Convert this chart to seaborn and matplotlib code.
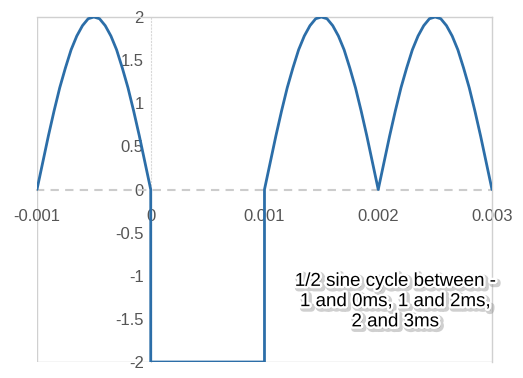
import pandas as pd
import matplotlib.pyplot as plt
import matplotlib.patheffects as pe
import seaborn as sns

# --- Data (time in seconds, value in volts) ---
# one half-sine hump, sampled every 0.05 ms
hump_t = [0.0, 0.00005, 0.0001, 0.00015, 0.0002, 0.00025, 0.0003, 0.00035, 0.0004, 0.00045, 0.0005,
          0.00055, 0.0006, 0.00065, 0.0007, 0.00075, 0.0008, 0.00085, 0.0009, 0.00095, 0.001]
hump_v = [0.0, 0.31, 0.62, 0.91, 1.18, 1.41, 1.62, 1.78, 1.90, 1.98, 2.0,
          1.98, 1.90, 1.78, 1.62, 1.41, 1.18, 0.91, 0.62, 0.31, 0.0]

# the negative square section between 0 and 1 ms
square_t = [0.0, 0.001]
square_v = [-2.0, -2.0]

x_ticks = [-0.001, 0, 0.001, 0.002, 0.003]
x_labels = ["-0.001", "0", "0.001", "0.002", "0.003"]
y_ticks = [-2, -1.5, -1, -0.5, 0, 0.5, 1, 1.5, 2]
y_labels = ["-2", "-1.5", "-1", "-0.5", "0", "0.5", "1", "1.5", "2"]
note = "1/2 sine cycle between -\n1 and 0ms, 1 and 2ms,\n2 and 3ms"

# build the full trace: hump (-1..0 ms), square (0..1 ms), hump (1..2 ms), hump (2..3 ms)
t_all = [t - 0.001 for t in hump_t] + square_t
v_all = list(hump_v) + square_v
for start in [0.001, 0.002]:
    t_all += [t + start for t in hump_t]
    v_all += hump_v
df = pd.DataFrame({"t": t_all, "v": v_all})

sns.set_style("white")
plt.rcParams['font.family'] = ['Liberation Sans', 'DejaVu Sans']
plt.rcParams['axes.unicode_minus'] = False

fig = plt.figure(figsize=(5.23, 3.78), dpi=100)
ax = fig.add_axes([0.0707, 0.0423, 0.87, 0.9127])

box = "#d0d0d0"
ax.axvline(-0.001, color=box, lw=1, zorder=0)
ax.axhline(-2, color=box, lw=1, zorder=0)

sns.lineplot(data=df, x="t", y="v", sort=False, estimator=None, color="#2c6ea8",
             lw=2.0, ax=ax, zorder=3)

ax.set_xlim(-0.001, 0.003)
ax.set_ylim(-2, 2)
ax.set_xlabel("")
ax.set_ylabel("")

# axes crossing at the origin
ax.spines['left'].set_position(('data', 0))
ax.spines['bottom'].set_position(('data', 0))
ax.spines['left'].set_color("#d8d8d8")
ax.spines['left'].set_linestyle((0, (1, 2)))
ax.spines['bottom'].set_color("#cccccc")
ax.spines['bottom'].set_linestyle((0, (3, 4)))
ax.spines['bottom'].set_linewidth(1.5)
for s in ['top', 'right']:
    ax.spines[s].set_color(box)
    ax.spines[s].set_linewidth(1)

ax.set_xticks(x_ticks, x_labels)
ax.set_yticks(y_ticks, y_labels)
ax.tick_params(axis='x', direction='out', length=10, color="#bbbbbb", width=1,
               labelsize=12, labelcolor="#555555", pad=4)
ax.tick_params(axis='y', direction='in', length=9, color="#888888", width=1,
               labelsize=12, labelcolor="#555555", pad=5)
for lab in ax.get_yticklabels():
    lab.set_zorder(1)

ax.text(0.00215, -1.3, note, ha="center", va="center", fontsize=13.5, linespacing=1.25,
        color="black", zorder=5,
        path_effects=[pe.Stroke(linewidth=5, foreground="#888888", alpha=0.4, offset=(1.5, -1.5)),
                      pe.Stroke(linewidth=3.5, foreground="white"), pe.Normal()])

plt.savefig("out.png", dpi=100)
